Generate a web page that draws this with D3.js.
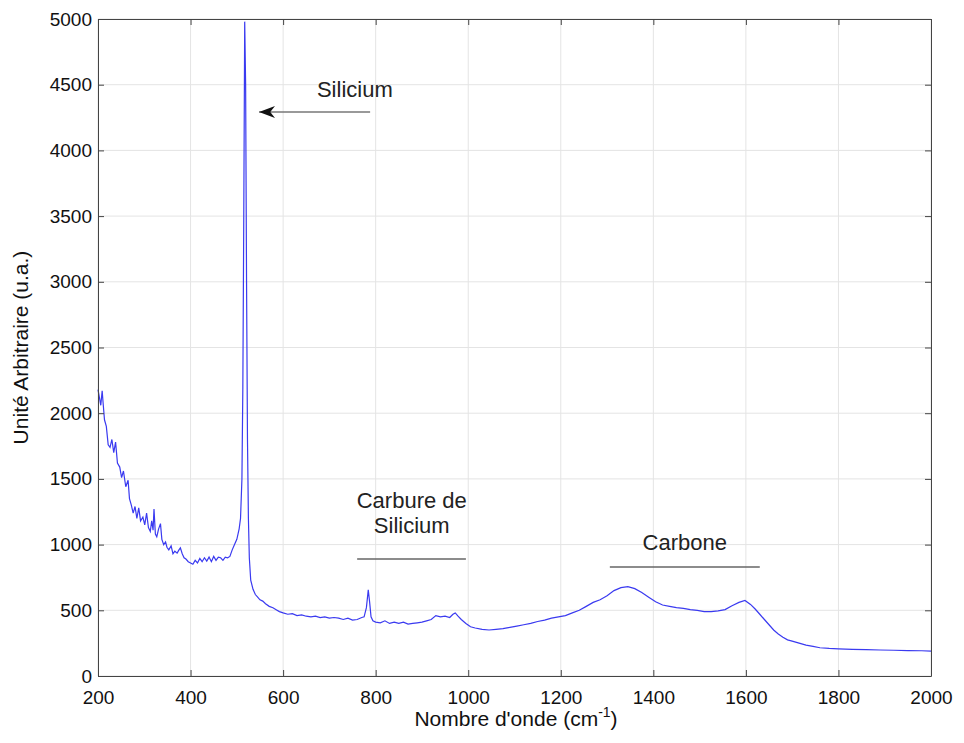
<!DOCTYPE html>
<html>
<head>
<meta charset="utf-8">
<script src="https://cdn.jsdelivr.net/npm/d3@7"></script>
<style>
  body { margin: 0; background: #fff; }
  text { font-family: "Liberation Sans", Arial, sans-serif; }
</style>
</head>
<body>
<svg id="svgId"></svg>
<script>
// wavenumber (cm-1) and intensity
const waveNumbers = [200,203,206,209,211,214,218,222,226,230,234,238,242,247,251,255,260,265,268,272,276,280,284,288,292,297,301,305,309,313,316,319,321,324,327,331,335,338,342,346,349,353,358,362,366,371,375,378,382,386,390,395,400,405,410,415,420,425,430,435,440,445,450,455,460,465,470,475,480,485,490,495,500,505,508,511,513,515,517,519,521,523,525,527,530,535,540,545,550,556,562,570,578,585,592,600,610,620,630,640,650,660,670,680,690,700,710,720,730,740,750,760,770,775,780,784,787,790,794,800,810,820,830,840,850,860,870,880,890,900,910,920,930,940,950,960,967,972,978,985,995,1005,1015,1030,1045,1060,1075,1090,1105,1120,1135,1150,1165,1180,1195,1210,1225,1240,1255,1270,1285,1300,1315,1330,1345,1360,1375,1390,1405,1420,1435,1450,1465,1480,1495,1510,1525,1540,1555,1570,1585,1598,1610,1620,1630,1640,1650,1660,1670,1680,1690,1700,1715,1730,1745,1760,1780,1800,1830,1860,1890,1920,1950,1980,2000];
const intensity = [2180,2120,2060,2170,2080,1950,1900,1760,1740,1800,1700,1780,1620,1590,1510,1560,1440,1490,1350,1300,1240,1290,1200,1280,1180,1210,1150,1240,1130,1100,1180,1110,1270,1080,1060,1120,1160,1040,1000,1020,980,960,990,930,950,935,960,975,930,900,890,870,860,850,880,860,895,870,900,875,905,870,910,880,905,900,880,905,900,910,960,1000,1040,1120,1200,1500,2200,3500,4980,4500,3000,1800,1200,900,730,660,620,600,580,570,550,530,520,505,490,480,470,475,460,465,455,450,455,445,450,440,445,440,430,440,425,430,445,450,520,655,560,450,420,410,405,420,400,410,400,410,395,400,405,410,420,430,460,450,455,445,470,480,455,430,400,375,365,355,350,355,360,370,380,390,400,415,425,440,450,460,480,500,530,560,580,610,650,672,680,665,635,600,565,540,530,520,515,505,500,490,490,495,505,535,560,575,545,510,470,430,390,350,320,295,275,265,250,235,225,215,210,207,203,200,198,196,193,192,190];

const xTicks = [200,400,600,800,1000,1200,1400,1600,1800,2000];
const yTicks = [0,500,1000,1500,2000,2500,3000,3500,4000,4500,5000];

// annotation labels, in data units (y = first baseline)
const labels = [
    { lines: ['Silicium'], x: 755, y: 4406 },
    { lines: ['Carbure de', 'Silicium'], x: 878, y: 1279 },
    { lines: ['Carbone'], x: 1468, y: 959 }
];
const bars = [
    { x0: 760, x1: 995, y: 890 },
    { x0: 1306, x1: 1630, y: 830 }
];
const arrow = { x0: 788, x1: 548, y: 4292 };

const width = 964;
const height = 743;
const margin = { top: 19, right: 33, bottom: 67, left: 98 };

const svg = d3.select('#svgId').attr('width', width).attr('height', height);

const xScale = d3.scaleLinear().domain([200, 2000]).range([margin.left, width - margin.right]);
const yScale = d3.scaleLinear().domain([0, 5000]).range([height - margin.bottom, margin.top]);

const x0 = margin.left, x1 = width - margin.right;
const y0 = height - margin.bottom, y1 = margin.top;

// grid
svg.append('g').selectAll('line').data(xTicks).enter().append('line')
    .attr('x1', d => xScale(d)).attr('x2', d => xScale(d))
    .attr('y1', y0).attr('y2', y1)
    .attr('stroke', '#e4e4e4').attr('stroke-width', 1);
svg.append('g').selectAll('line').data(yTicks).enter().append('line')
    .attr('y1', d => yScale(d)).attr('y2', d => yScale(d))
    .attr('x1', x0).attr('x2', x1)
    .attr('stroke', '#e4e4e4').attr('stroke-width', 1);

// spectrum
const pts = waveNumbers.map((w, i) => [w, intensity[i]]);
svg.append('path')
    .datum(pts)
    .attr('fill', 'none')
    .attr('stroke', '#3a3af0')
    .attr('stroke-width', 1.2)
    .attr('d', d3.line().x(d => xScale(d[0])).y(d => yScale(d[1])));

// axes (ticks inward, box on)
const axisColor = '#444';
const fmt = d3.format('d');
function styleAxis(g) {
    g.select('.domain').attr('stroke', axisColor);
    g.selectAll('.tick line').attr('stroke', axisColor);
    g.selectAll('.tick text').attr('fill', '#111').style('font-size', '19px')
        .style('font-family', '"Liberation Sans", Arial, sans-serif');
}
svg.append('g').attr('transform', `translate(0,${y0})`)
    .call(d3.axisBottom(xScale).tickValues(xTicks).tickFormat(fmt).tickSizeInner(-6).tickSizeOuter(0).tickPadding(15))
    .call(styleAxis);
svg.append('g').attr('transform', `translate(0,${y1})`)
    .call(d3.axisTop(xScale).tickValues(xTicks).tickSizeInner(-6).tickSizeOuter(0).tickFormat(''))
    .call(styleAxis);
svg.append('g').attr('transform', `translate(${x0},0)`)
    .call(d3.axisLeft(yScale).tickValues(yTicks).tickFormat(fmt).tickSizeInner(-6).tickSizeOuter(0).tickPadding(6))
    .call(styleAxis);
svg.append('g').attr('transform', `translate(${x1},0)`)
    .call(d3.axisRight(yScale).tickValues(yTicks).tickSizeInner(-6).tickSizeOuter(0).tickFormat(''))
    .call(styleAxis);

// axis titles
const xLabel = svg.append('text')
    .attr('x', 516).attr('y', 726)
    .attr('text-anchor', 'middle').attr('font-size', '21px').attr('fill', '#111');
xLabel.append('tspan').text("Nombre d'onde (cm");
xLabel.append('tspan').attr('dy', -9).attr('font-size', '14px').text('-1');
xLabel.append('tspan').attr('dy', 9).text(')');

svg.append('text')
    .attr('transform', `translate(28,${(y0 + y1) / 2}) rotate(-90)`)
    .attr('text-anchor', 'middle').attr('font-size', '21px').attr('fill', '#111')
    .text('Unité Arbitraire (u.a.)');

// annotations
labels.forEach(l => {
    l.lines.forEach((t, i) => {
        svg.append('text')
            .attr('x', xScale(l.x))
            .attr('y', yScale(l.y) + i * 25)
            .attr('text-anchor', 'middle')
            .attr('font-size', '22px')
            .attr('fill', '#222')
            .text(t);
    });
});

bars.forEach(b => {
    svg.append('line')
        .attr('x1', xScale(b.x0)).attr('x2', xScale(b.x1))
        .attr('y1', yScale(b.y)).attr('y2', yScale(b.y))
        .attr('stroke', '#666').attr('stroke-width', 1.5);
});

svg.append('defs').append('marker')
    .attr('id', 'head').attr('viewBox', '0 0 10 10')
    .attr('preserveAspectRatio', 'none')
    .attr('refX', 10).attr('refY', 5)
    .attr('markerWidth', 16).attr('markerHeight', 12)
    .attr('markerUnits', 'userSpaceOnUse')
    .attr('orient', 'auto')
    .append('path').attr('d', 'M0,0 L10,5 L0,10 L3,5 Z').attr('fill', '#111');

svg.append('line')
    .attr('x1', xScale(arrow.x0)).attr('x2', xScale(arrow.x1))
    .attr('y1', yScale(arrow.y)).attr('y2', yScale(arrow.y))
    .attr('stroke', '#777').attr('stroke-width', 1.5)
    .attr('marker-end', 'url(#head)');
</script>
</body>
</html>
